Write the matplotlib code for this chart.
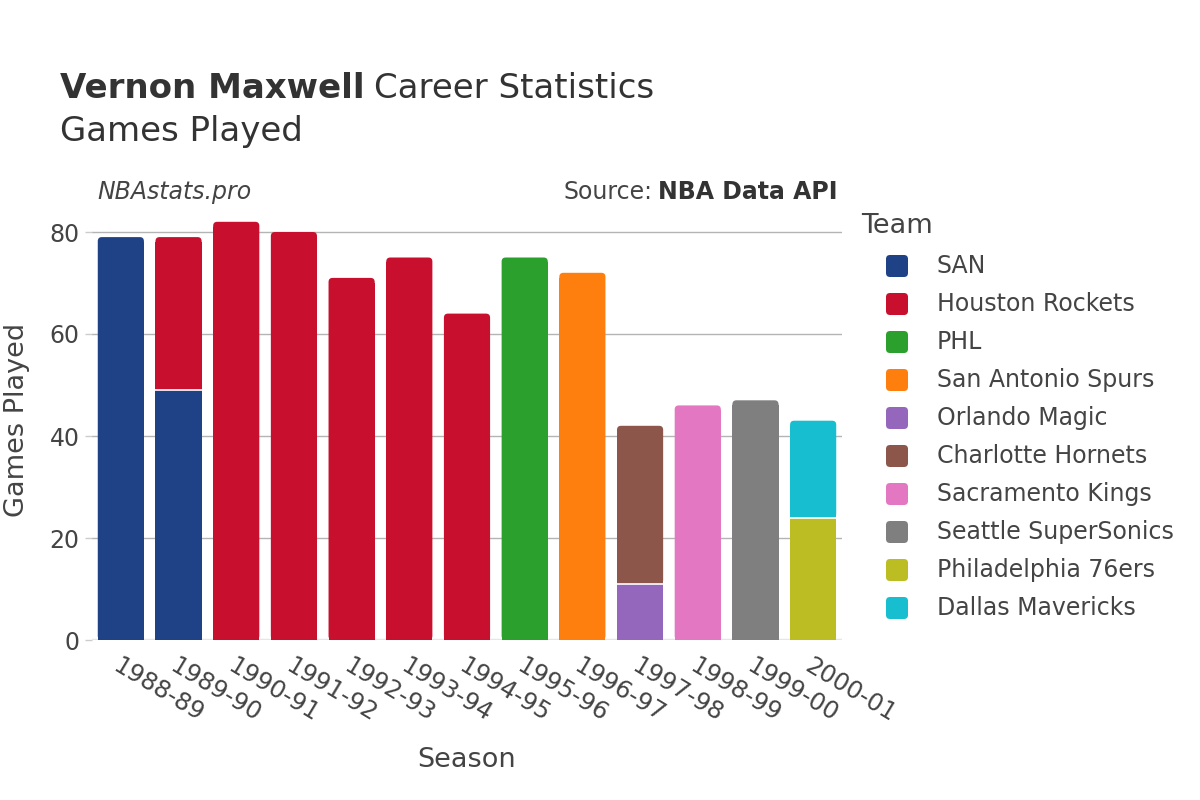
import matplotlib
matplotlib.use("Agg")
import matplotlib.pyplot as plt
from matplotlib.patches import FancyBboxPatch, Rectangle

plt.rcParams['font.family'] = ['DejaVu Sans']

# data
seasons = ["1988-89", "1989-90", "1990-91", "1991-92", "1992-93", "1993-94", "1994-95",
           "1995-96", "1996-97", "1997-98", "1998-99", "1999-00", "2000-01"]
teams = ["SAN", "Houston Rockets", "PHL", "San Antonio Spurs", "Orlando Magic",
         "Charlotte Hornets", "Sacramento Kings", "Seattle SuperSonics",
         "Philadelphia 76ers", "Dallas Mavericks"]
team_colors = ["#1f4287", "#c8102e", "#2ca02c", "#ff7f0e", "#9467bd",
               "#8c564b", "#e377c2", "#7f7f7f", "#bcbd22", "#17becf"]
# games per season for each team, in stacking order
san_games = [79, 49, 0, 0, 0, 0, 0, 0, 0, 0, 0, 0, 0]
hou_games = [0, 30, 82, 80, 71, 75, 64, 0, 0, 0, 0, 0, 0]
phl_games = [0, 0, 0, 0, 0, 0, 0, 75, 0, 0, 0, 0, 0]
sas_games = [0, 0, 0, 0, 0, 0, 0, 0, 72, 0, 0, 0, 0]
orl_games = [0, 0, 0, 0, 0, 0, 0, 0, 0, 11, 0, 0, 0]
cha_games = [0, 0, 0, 0, 0, 0, 0, 0, 0, 31, 0, 0, 0]
sac_games = [0, 0, 0, 0, 0, 0, 0, 0, 0, 0, 46, 0, 0]
sea_games = [0, 0, 0, 0, 0, 0, 0, 0, 0, 0, 0, 47, 0]
phi_games = [0, 0, 0, 0, 0, 0, 0, 0, 0, 0, 0, 0, 24]
dal_games = [0, 0, 0, 0, 0, 0, 0, 0, 0, 0, 0, 0, 19]
series = [san_games, hou_games, phl_games, sas_games, orl_games,
          cha_games, sac_games, sea_games, phi_games, dal_games]

fig = plt.figure(figsize=(12, 8), dpi=100)
ax = fig.add_axes([92/1200, 0.2, 750/1200, (640-211.6)/800])
ax.set_xlim(-0.5, len(seasons) - 0.5)
ax.set_ylim(0, 84)

width = 0.8
totals = [sum(s[i] for s in series) for i in range(len(seasons))]
rx, ry = 0.07, 0.8   # corner radius in data units
bottoms = [0] * len(seasons)
for t, vals in enumerate(series):
    for i, v in enumerate(vals):
        if v == 0:
            continue
        b = bottoms[i]
        x0 = i - width / 2
        if abs(b + v - totals[i]) < 1e-9:   # top segment gets rounded corners
            ax.add_patch(FancyBboxPatch((x0, b), width, v,
                                        boxstyle="round,pad=0,rounding_size=%f" % rx,
                                        mutation_aspect=ry / rx,
                                        facecolor=team_colors[t], edgecolor="none", zorder=3))
            ax.add_patch(Rectangle((x0, b), width, v - ry * 1.2,
                                   facecolor=team_colors[t], edgecolor="none", zorder=3))
        else:
            ax.add_patch(Rectangle((x0, b), width, v,
                                   facecolor=team_colors[t], edgecolor="none", zorder=3))
        if b > 0:
            ax.plot([x0, x0 + width], [b, b], color="white", lw=1.2, zorder=4)
        bottoms[i] = b + v

for s in ax.spines.values():
    s.set_visible(False)
ax.set_yticks([0, 20, 40, 60, 80])
ax.yaxis.grid(True, color="#b4b4b4", lw=1)
ax.set_axisbelow(True)
ax.axhline(0, color="#e6e6e6", lw=2.5, zorder=2)
ax.tick_params(axis="y", length=5, width=1, color="#cccccc", labelsize=17,
               labelcolor="#444444", pad=4)
ax.set_xticks(range(len(seasons)))
ax.set_xticklabels(seasons, rotation=-31, ha="left", va="top", rotation_mode="anchor")
ax.tick_params(axis="x", length=0, labelsize=17.5, labelcolor="#444444", pad=10)

fig.text(17/1200, 1 - 420/800, "Games Played", rotation=90, ha="center", va="center",
         fontsize=19.5, color="#444444")
fig.text(467/1200, 1 - 760/800, "Season", ha="center", va="center",
         fontsize=19.5, color="#444444")

t1 = fig.text(60/1200, 1 - 88/800, "Vernon Maxwell", fontsize=24.5, fontweight="bold",
              color="#333333", va="center")
fig.canvas.draw()
bb = t1.get_window_extent()
fig.text(bb.x1 / 1200 + 0.008, 1 - 88/800, "Career Statistics", fontsize=24.5,
         color="#333333", va="center")
fig.text(60/1200, 1 - 132/800, "Games Played", fontsize=24.5, color="#333333", va="center")

fig.text(97/1200, 1 - 192/800, "NBAstats.pro", fontsize=17, style="italic",
         color="#444444", va="center")
s2 = fig.text(838/1200, 1 - 192/800, "NBA Data API", fontsize=17, fontweight="bold",
              color="#333333", va="center", ha="right")
fig.canvas.draw()
bb2 = s2.get_window_extent()
fig.text(bb2.x0 / 1200 - 0.005, 1 - 192/800, "Source:", fontsize=17,
         color="#444444", va="center", ha="right")

# legend
fig.text(861/1200, 1 - 226/800, "Team", fontsize=19.5, color="#444444", va="center")
for k, name in enumerate(teams):
    yc = 266 + 38 * k
    fig.add_artist(FancyBboxPatch((886 / 1200, 1 - (yc + 11) / 800), 22 / 1200, 22 / 800,
                                  boxstyle="round,pad=0,rounding_size=%f" % (4 / 1200),
                                  mutation_aspect=1.5, transform=fig.transFigure,
                                  facecolor=team_colors[k], edgecolor="none"))
    fig.text(937/1200, 1 - yc/800, name, fontsize=17, color="#444444", va="center")

fig.savefig("out.png", dpi=100, facecolor="white")
